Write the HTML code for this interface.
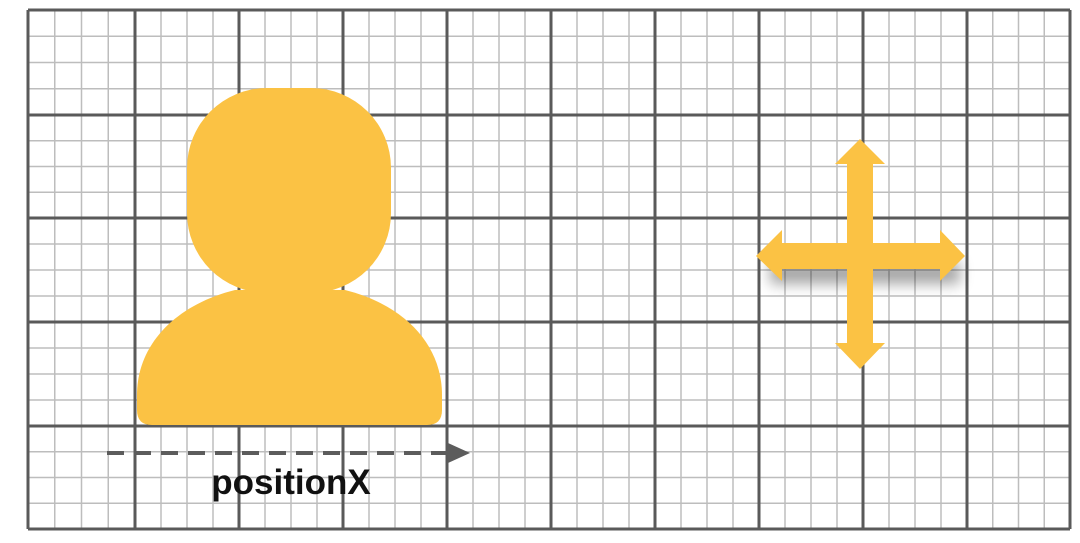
<!DOCTYPE html>
<html><head><meta charset="utf-8"><style>
html,body{margin:0;padding:0;background:#fff;width:1080px;height:543px;overflow:hidden}
svg{display:block}
</style></head><body>
<svg width="1080" height="543" viewBox="0 0 1080 543">
<defs>
<filter id="sh" x="-30%" y="-30%" width="160%" height="200%"><feGaussianBlur stdDeviation="7"/></filter>
</defs>
<g id="grid"></g>
<g fill="#fbc244">
<rect x="187" y="88" width="204" height="205" rx="80" ry="80"/>
<path d="M235,290 L345,290 C405,305 442,345 442,395 L442,410 Q442,425 427,425 L152,425 Q137,425 137,410 L137,395 C137,345 175,305 235,290 Z"/>
</g>
<g>
<line x1="107" y1="453" x2="450" y2="453" stroke="#5c5c5c" stroke-width="4" stroke-dasharray="17,10"/>
<polygon points="448,443 470,453 448,463" fill="#5c5c5c"/>
</g>
<text x="291" y="494" text-anchor="middle" font-family="Liberation Sans, sans-serif" font-weight="bold" font-size="35" fill="#111">positionX</text>
<g>
<rect x="770" y="262" width="190" height="22" fill="#000" opacity="0.35" filter="url(#sh)"/>
<path d="M860,139 L885,164 L873,164 L873,243 L940,243 L940,230 L965,256 L940,281 L940,269 L873,269 L873,343 L885,343 L860,369 L835,343 L847,343 L847,269 L782,269 L782,281 L756,256 L782,230 L782,243 L847,243 L847,164 L835,164 Z" fill="#fbc244"/>
</g>
</svg>
<script>
const g=document.getElementById('grid');
const ns='http://www.w3.org/2000/svg';
const vMaj=[28,135,239,343,447,551,655,759,863,967,1070];
const hMaj=[10,115,218,322,426,529];
function ln(x1,y1,x2,y2,c,w,name){const l=document.createElementNS(ns,'line');l.setAttribute('x1',x1);l.setAttribute('y1',y1);l.setAttribute('x2',x2);l.setAttribute('y2',y2);l.setAttribute('stroke',c);l.setAttribute('stroke-width',w);


g.appendChild(l);}
for(let i=0;i<vMaj.length-1;i++)for(let k=1;k<4;k++){const x=vMaj[i]+(vMaj[i+1]-vMaj[i])*k/4;ln(x,10,x,529,'#bdbdbd',1.5,'minor-grid-line');}
for(let i=0;i<hMaj.length-1;i++)for(let k=1;k<4;k++){const y=hMaj[i]+(hMaj[i+1]-hMaj[i])*k/4;ln(28,y,1070,y,'#bdbdbd',1.5,'minor-grid-line');}
vMaj.forEach(x=>ln(x,10,x,529,'#5a5a5a',3,'major-grid-line'));
hMaj.forEach(y=>ln(28,y,1070,y,'#5a5a5a',3,'major-grid-line'));
</script>
</body></html>
